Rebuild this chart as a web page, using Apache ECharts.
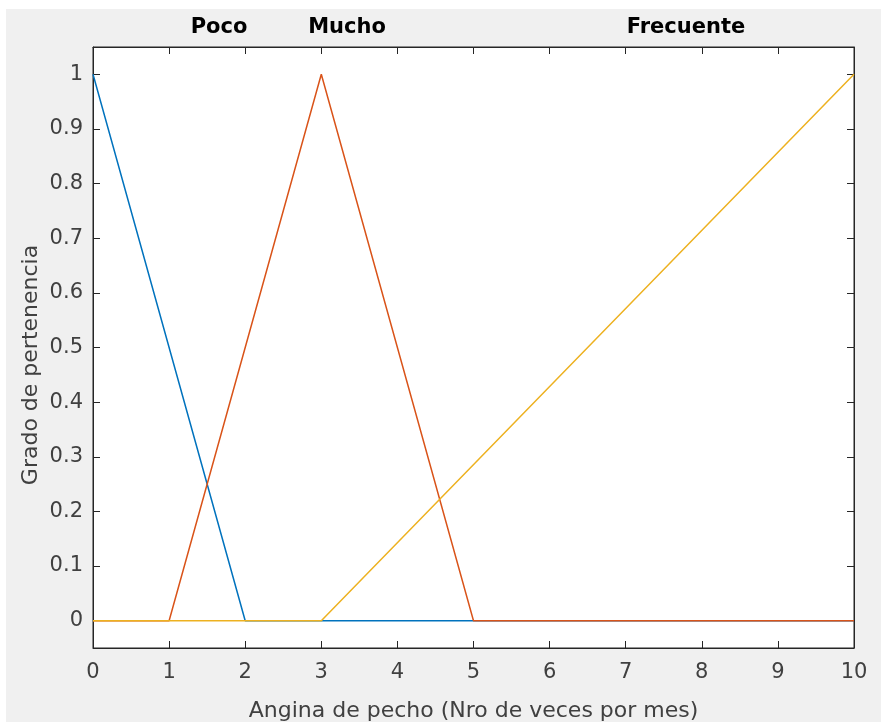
<!DOCTYPE html>
<html>
<head>
<meta charset="utf-8">
<script src="https://cdn.jsdelivr.net/npm/echarts@6/dist/echarts.min.js"></script>
<style>
  html, body { margin: 0; padding: 0; background: #ffffff; }
  #chart { width: 881px; height: 722px; }
</style>
</head>
<body>
<div id="chart"></div>
<script>
// Membership functions for "Angina de pecho"
const setNames = ['Poco', 'Mucho', 'Frecuente'];
const pocoX = [0, 2, 10];
const pocoY = [1, 0, 0];
const muchoX = [0, 1, 3, 5, 10];
const muchoY = [0, 0, 1, 0, 0];
const frecuenteX = [0, 3, 10];
const frecuenteY = [0, 0, 1];
const yTicks = [0, 0.1, 0.2, 0.3, 0.4, 0.5, 0.6, 0.7, 0.8, 0.9, 1];

const colors = ['#0072BD', '#D95319', '#EDB120'];
const axisColor = '#262626';
const textColor = '#404040';
const font = '"DejaVu Sans", Verdana, sans-serif';

const pairs = (xs, ys) => xs.map((x, i) => [x, ys[i]]);

const chart = echarts.init(document.getElementById('chart'));

const tickStyle = { show: true, inside: true, length: 7, lineStyle: { color: axisColor, width: 1 } };
const lineStyleAxis = { show: true, onZero: false, lineStyle: { color: axisColor, width: 1 } };

// Set names written above the axes (pixel centres)
const labelCenters = [219, 347, 686];

const option = {
  animation: false,
  backgroundColor: '#ffffff',
  graphic: [
    { type: 'rect', z: -10, shape: { x: 6, y: 9, width: 875, height: 713 }, style: { fill: '#f0f0f0' } },
    { type: 'text', x: 31, y: 365, rotation: Math.PI / 2,
      style: { text: 'Grado de pertenencia', fill: textColor, font: '22px ' + font,
               align: 'center', verticalAlign: 'middle' } }
  ].concat(setNames.map((n, i) => ({
    type: 'text', x: labelCenters[i], y: 28,
    style: { text: n, fill: '#000000', font: 'bold 21px ' + font, align: 'center', verticalAlign: 'middle' }
  }))),
  grid: {
    left: 93, top: 47, right: 27, bottom: 74,
    outerBoundsMode: 'none',
    show: true, backgroundColor: '#ffffff', borderColor: axisColor, borderWidth: 1
  },
  xAxis: [
    {
      type: 'value', min: 0, max: 10, interval: 1,
      name: 'Angina de pecho (Nro de veces por mes)',
      nameLocation: 'middle', nameGap: 52,
      nameTextStyle: { color: textColor, fontSize: 22, fontFamily: font },
      axisLine: lineStyleAxis,
      axisTick: tickStyle,
      splitLine: { show: false },
      axisLabel: { color: textColor, fontSize: 21, fontFamily: font, margin: 14 }
    },
    {
      type: 'value', min: 0, max: 10, interval: 1, position: 'top',
      axisLine: lineStyleAxis,
      axisTick: tickStyle,
      splitLine: { show: false },
      axisLabel: { show: false }
    }
  ],
  yAxis: [
    {
      type: 'value', min: -0.05, max: 1.05,
      axisLine: lineStyleAxis,
      axisTick: Object.assign({}, tickStyle, { customValues: yTicks }),
      splitLine: { show: false },
      axisLabel: { color: textColor, fontSize: 21, fontFamily: font, margin: 10, customValues: yTicks,
                   formatter: v => String(Math.round(v * 10) / 10) }
    },
    {
      type: 'value', min: -0.05, max: 1.05, position: 'right',
      axisLine: lineStyleAxis,
      axisTick: Object.assign({}, tickStyle, { customValues: yTicks }),
      splitLine: { show: false },
      axisLabel: { show: false, customValues: yTicks }
    }
  ],
  series: [
    { name: setNames[0], type: 'line', data: pairs(pocoX, pocoY), symbol: 'none',
      lineStyle: { color: colors[0], width: 1.5 }, z: 2 },
    { name: setNames[1], type: 'line', data: pairs(muchoX, muchoY), symbol: 'none',
      lineStyle: { color: colors[1], width: 1.5 }, z: 3 },
    { name: setNames[2], type: 'line', data: pairs(frecuenteX, frecuenteY), symbol: 'none',
      lineStyle: { color: colors[2], width: 1.5 }, z: 4 }
  ]
};

chart.setOption(option);
</script>
</body>
</html>
